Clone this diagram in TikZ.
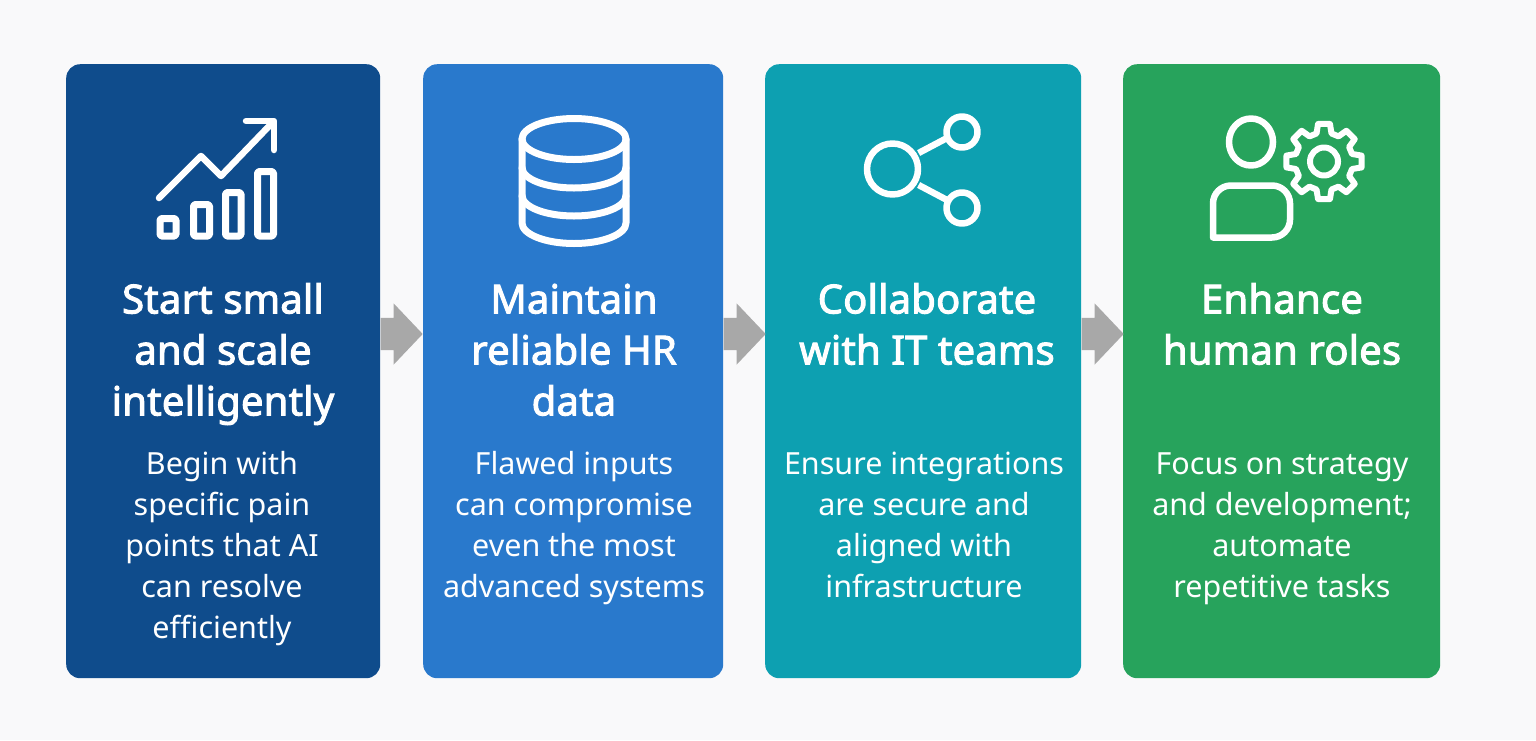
\documentclass[tikz,border=0pt]{standalone}
\usepackage{fontspec}
\setmainfont{Noto Sans}
\newfontfamily\titlefont[FakeBold=2.5,LetterSpace=0.5]{Noto Sans}
\usetikzlibrary{shapes.arrows,calc}
\definecolor{pagebg}{HTML}{F9F9FA}
\definecolor{cardA}{HTML}{0F4C8C}
\definecolor{cardB}{HTML}{2979CC}
\definecolor{cardC}{HTML}{0DA0B1}
\definecolor{cardD}{HTML}{27A35C}
\definecolor{arrowgrey}{HTML}{A8A8A8}
\tikzset{
  card/.style={rectangle,rounded corners=14pt,inner sep=0pt,minimum height=614pt,anchor=north west},
  title/.style={anchor=north,align=center,inner sep=0pt,text=white,font=\titlefont\fontsize{40}{51}\selectfont},
  body/.style={anchor=north,align=center,inner sep=0pt,text=white,font=\fontsize{30.5}{41}\selectfont},
  blockarrow/.style={single arrow,fill=arrowgrey,inner sep=0pt,text height=32pt,text depth=0pt,text width=0pt,minimum height=42pt,minimum width=61pt,single arrow head extend=14.5pt,single arrow tip angle=93},
  icon/.style={draw=white,line width=6.5pt,line join=round,line cap=round},
}
\begin{document}
\begin{tikzpicture}[x=1pt,y=-1pt]
\useasboundingbox (0,0) rectangle (1536,740);
\fill[pagebg] (0,0) rectangle (1536,740);
\node[card,fill=cardA,minimum width=314pt] (c1) at (66,64) {};
\node[card,fill=cardB,minimum width=300pt] (c2) at (423,64) {};
\node[card,fill=cardC,minimum width=316pt] (c3) at (765,64) {};
\node[card,fill=cardD,minimum width=317pt] (c4) at (1123,64) {};
% arrows
\node[blockarrow] (a1) at (394,334) {};
\node[blockarrow] (a2) at (737,334) {};
\node[blockarrow] (a3) at (1095,334) {};
% icon 1
\draw[icon] (159,198) -- (201,156) -- (221,176) -- (273,122);
\draw[icon] (246,121) -- (274,121) -- (274,150);
\draw[icon,line width=7pt,rounded corners=1.5pt] (160,218.5) rectangle (176,236);
\draw[icon,line width=7pt,rounded corners=1.5pt] (193.5,204.5) rectangle (209.5,236);
\draw[icon,line width=7pt,rounded corners=1.5pt] (225.5,192.5) rectangle (241,236);
\draw[icon,line width=7pt,rounded corners=1.5pt] (257.5,171.5) rectangle (273.5,236);
% icon 2
\draw[icon,line width=7pt] (574,139) ellipse [x radius=52,y radius=20.5];
\draw[icon,line width=7pt] (522,139) -- (522,223) arc [start angle=180,end angle=0,x radius=52,y radius=20.5] -- (626,139);
\draw[icon,line width=7pt] (522,167.5) arc [start angle=180,end angle=0,x radius=52,y radius=20.5];
\draw[icon,line width=7pt] (522,195.5) arc [start angle=180,end angle=0,x radius=52,y radius=20.5];
% icon 3
\draw[icon] (892.5,169) circle [radius=25.5];
\draw[icon] (962,132) circle [radius=15.5];
\draw[icon] (962,208) circle [radius=15.5];
\draw[icon,line cap=butt] (918.6,153) -- (947,138);
\draw[icon,line cap=butt] (918.6,185) -- (947,200);
% icon 4
\draw[icon] (1251,142) ellipse [x radius=22,y radius=23.5];
\draw[icon] (1213,237.5) {[rounded corners=18pt] -- (1213,185.5) -- (1290,185.5) -- (1290,237.5)} -- cycle;
\draw[icon,line width=6pt] (1324,161.5) circle [radius=14];
\draw[icon,line width=6pt]
  ($(1324,161.5)+(-9:38)$)
  \foreach \a in {0,45,...,315}{
    -- ($(1324,161.5)+(\a-9:38)$)
    -- ($(1324,161.5)+(\a+9:38)$)
    -- ($(1324,161.5)+(\a+15:29)$)
    -- ($(1324,161.5)+(\a+30:29)$)
  } -- cycle;
% text
\node[title] (t1) at (223,277.5) {\strut Start small\\and scale\\intelligently};
\node[title] (t2) at (574,277.5) {\strut Maintain\\reliable HR\\data};
\node[title] (t3) at (927,277.5) {\strut Collaborate\\with IT teams};
\node[title] (t4) at (1282,277.5) {\strut Enhance\\human roles};
\node[body] (b1) at (222,446) {\strut Begin with\\specific pain\\points that AI\\can resolve\\efficiently};
\node[body] (b2) at (574,446) {\strut Flawed inputs\\can compromise\\even the most\\advanced systems};
\node[body] (b3) at (924,446) {\strut Ensure integrations\\are secure and\\aligned with\\infrastructure};
\node[body] (b4) at (1282,446) {\strut Focus on strategy\\and development;\\automate\\repetitive tasks};
\end{tikzpicture}
\end{document}
